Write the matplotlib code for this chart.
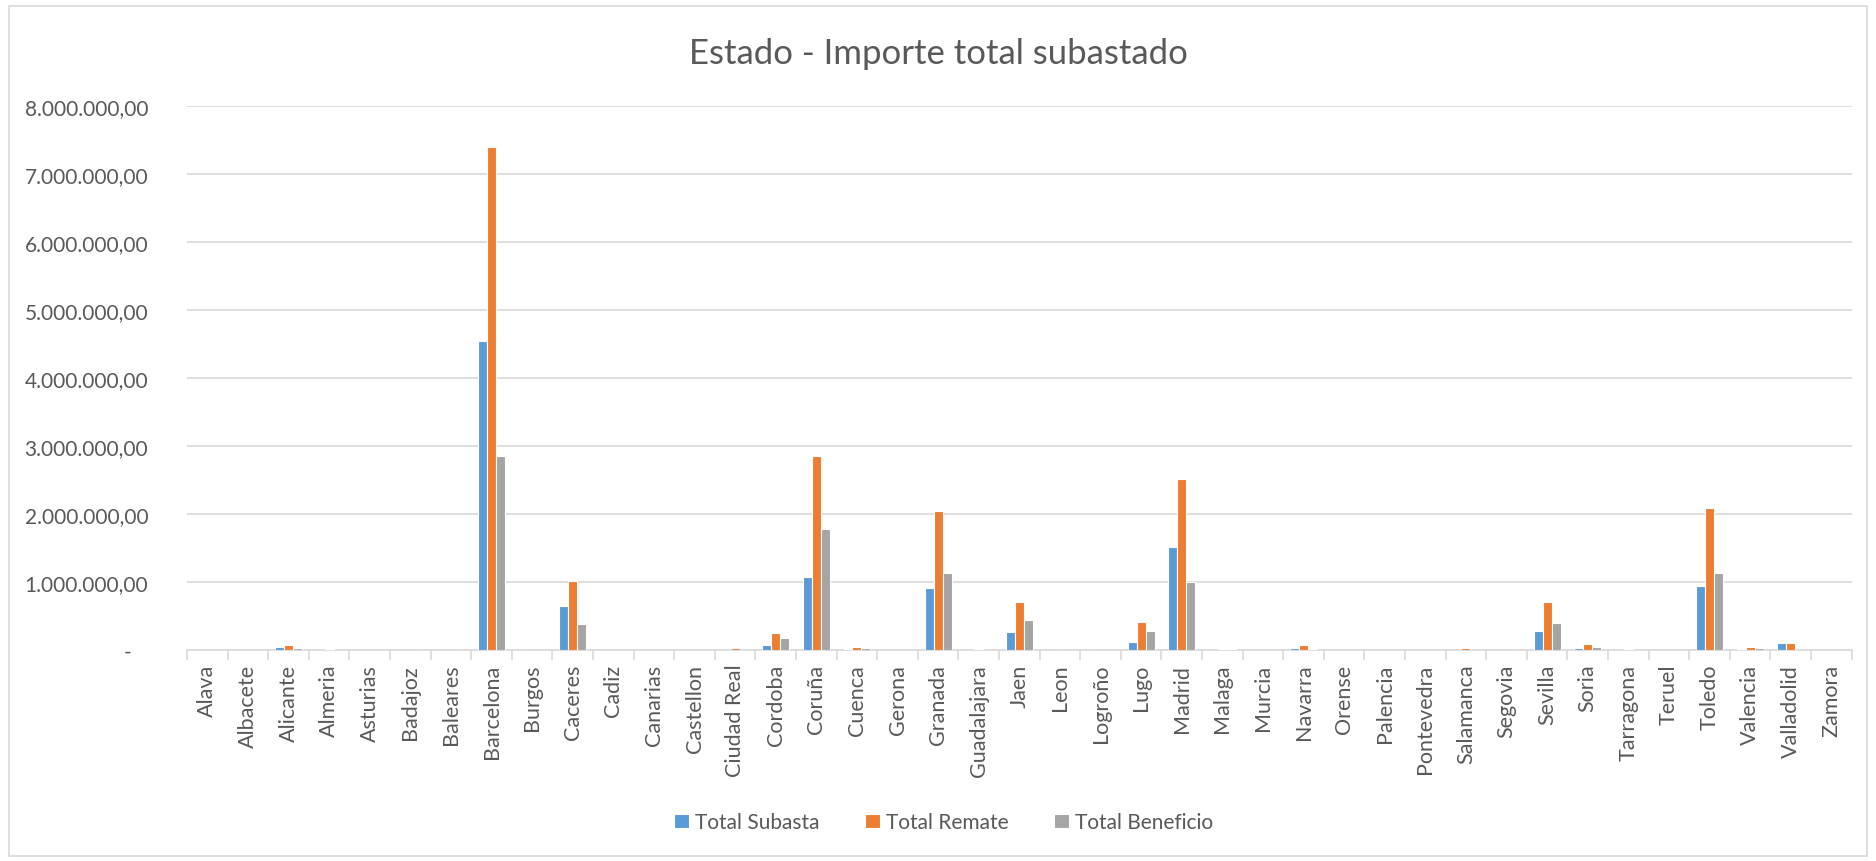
import matplotlib
matplotlib.use("Agg")
import matplotlib.pyplot as plt
import numpy as np
from matplotlib.ticker import FixedLocator, FuncFormatter
from matplotlib.patches import Rectangle

plt.rcParams['font.family'] = ['Lato', 'DejaVu Sans']

categories = ["Alava", "Albacete", "Alicante", "Almeria", "Asturias", "Badajoz", "Baleares",
              "Barcelona", "Burgos", "Caceres", "Cadiz", "Canarias", "Castellon", "Ciudad Real",
              "Cordoba", "Coruña", "Cuenca", "Gerona", "Granada", "Guadalajara", "Jaen", "Leon",
              "Logroño", "Lugo", "Madrid", "Malaga", "Murcia", "Navarra", "Orense", "Palencia",
              "Pontevedra", "Salamanca", "Segovia", "Sevilla", "Soria", "Tarragona", "Teruel",
              "Toledo", "Valencia", "Valladolid", "Zamora"]

total_subasta = [0, 0, 40000, 5000, 0, 0, 0,
                 4540000, 0, 640000, 0, 0, 0, 5000,
                 70000, 1070000, 10000, 0, 915000, 3000, 260000, 0,
                 0, 115000, 1510000, 5000, 0, 25000, 0, 0,
                 0, 5000, 0, 285000, 25000, 5000, 0,
                 940000, 10000, 97000, 0]

total_remate = [0, 0, 80000, 12000, 0, 0, 0,
                7400000, 0, 1020000, 0, 0, 0, 25000,
                250000, 2850000, 50000, 0, 2050000, 8000, 710000, 0,
                0, 410000, 2510000, 15000, 0, 70000, 0, 0,
                0, 35000, 0, 705000, 85000, 10000, 0,
                2090000, 40000, 97000, 0]

total_beneficio = [0, 0, 25000, 7000, 0, 0, 0,
                   2850000, 0, 375000, 0, 0, 0, 5000,
                   170000, 1775000, 25000, 0, 1130000, 5000, 435000, 0,
                   0, 280000, 1000000, 10000, 0, 20000, 0, 0,
                   0, 5000, 0, 395000, 50000, 5000, 0,
                   1135000, 25000, 0, 0]

series_names = ["Total Subasta", "Total Remate", "Total Beneficio"]
colors = ["#5B9BD5", "#ED7D31", "#A5A5A5"]
y_ticks = [0, 1000000, 2000000, 3000000, 4000000, 5000000, 6000000, 7000000, 8000000]

fig = plt.figure(figsize=(18.76, 8.62), dpi=100)
fig.patch.set_facecolor("white")
fig.patches.append(Rectangle((0.005, 0.006), 0.99, 0.986, transform=fig.transFigure,
                             fill=False, edgecolor="#D9D9D9", linewidth=1.2))

ax = fig.add_axes([0.0997, 0.2448, 0.8873, 0.6311])
x = np.arange(len(categories))
w = 0.22
for i, (vals, name, c) in enumerate(zip([total_subasta, total_remate, total_beneficio],
                                        series_names, colors)):
    ax.bar(x + (i - 1) * w, vals, width=w, color=c, edgecolor="white",
           linewidth=0.8, label=name, zorder=3)

ax.set_xlim(-0.5, len(categories) - 0.5)
ax.set_ylim(0, 8000000)
ax.yaxis.set_major_locator(FixedLocator(y_ticks))


def fmt(v, pos):
    if v == 0:
        return "-   "
    s = f"{v:,.2f}"
    return s.replace(",", "X").replace(".", ",").replace("X", ".")


ax.yaxis.set_major_formatter(FuncFormatter(fmt))
ax.grid(axis="y", color="#D9D9D9", linewidth=1.2, zorder=0)
ax.set_axisbelow(True)
for s in ["top", "right", "left"]:
    ax.spines[s].set_visible(False)
ax.spines["bottom"].set_color("#D9D9D9")
ax.spines["bottom"].set_linewidth(1.2)

ax.set_xticks(x)
ax.set_xticklabels(categories, rotation=90, fontsize=15.5, color="#595959")
ax.tick_params(axis="x", which="major", length=0, pad=10)
ax.set_xticks(np.arange(-0.5, len(categories), 1), minor=True)
ax.tick_params(axis="x", which="minor", length=7, color="#D9D9D9", width=1.2)
ax.tick_params(axis="y", length=0, labelsize=15, labelcolor="#595959", pad=28)

fig.text(0.5, 0.937, "Estado - Importe total subastado", ha="center", va="center",
         fontsize=25, color="#595959")

handles, labels = ax.get_legend_handles_labels()
leg = fig.legend(handles, labels, loc="center", bbox_to_anchor=(0.503, 0.045), ncol=3,
                 frameon=False, fontsize=15, handlelength=0.7, handleheight=0.7,
                 handletextpad=0.3, columnspacing=2.2)
for t in leg.get_texts():
    t.set_color("#595959")

fig.savefig("out.png", dpi=100, facecolor="white")
